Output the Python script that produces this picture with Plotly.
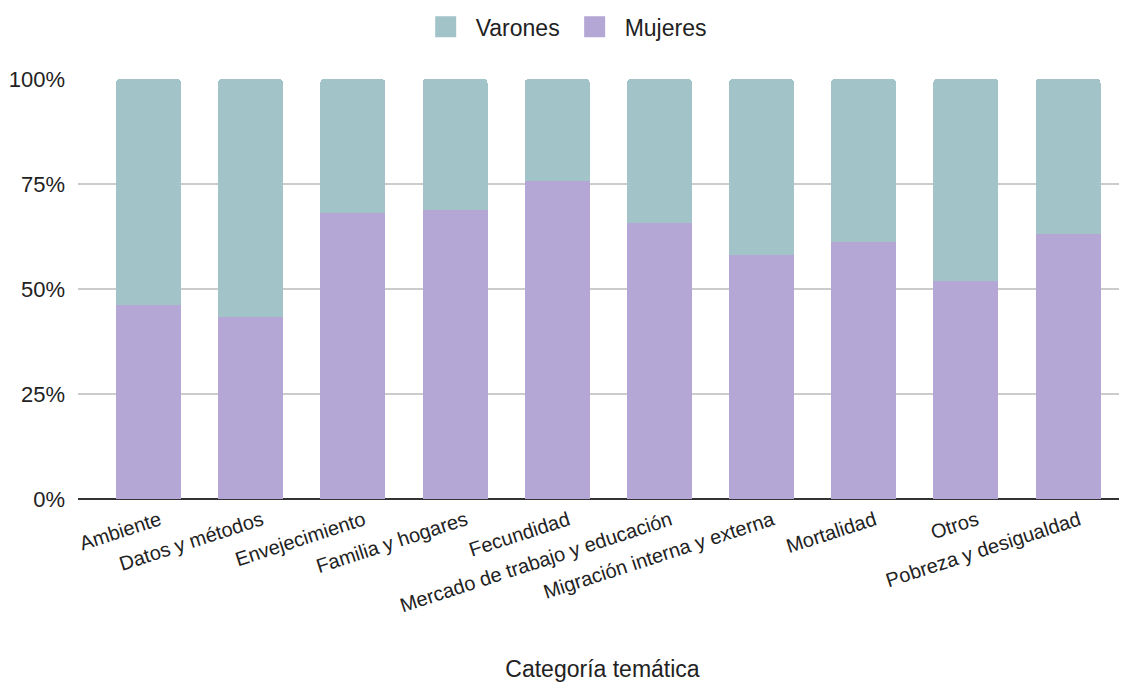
import plotly.graph_objects as go

categorias = ["Ambiente", "Datos y métodos", "Envejecimiento", "Familia y hogares",
              "Fecundidad", "Mercado de trabajo y educación", "Migración interna y externa",
              "Mortalidad", "Otros", "Pobreza y desigualdad"]
mujeres = [46.3, 43.3, 68.2, 68.7, 75.8, 65.8, 58.2, 61.1, 52.0, 63.0]
varones = [53.7, 56.7, 31.8, 31.3, 24.2, 34.2, 41.8, 38.9, 48.0, 37.0]
y_ticks = [0, 25, 50, 75, 100]
y_tick_labels = ["0%", "25%", "50%", "75%", "100%"]

C_VAR = "#A2C4C9"
C_MUJ = "#B4A7D6"
FONT = "Liberation Sans, Arial, sans-serif"
TXT = "#222222"

fig = go.Figure()
fig.add_trace(go.Bar(name="Mujeres", x=categorias, y=mujeres, marker_color=C_MUJ,
                     marker_line_width=0, width=0.636, showlegend=False))
fig.add_trace(go.Bar(name="Varones", x=categorias, y=varones, marker_color=C_VAR,
                     marker_line_width=0, width=0.636, showlegend=False))
# legend entries (larger square swatches)
for name, col in [("Varones", C_VAR), ("Mujeres", C_MUJ)]:
    fig.add_trace(go.Scatter(name=name, x=[None], y=[None], mode="markers",
                             marker=dict(symbol="square", size=16, color=col,
                                         line=dict(color=col, width=5)),
                             showlegend=True))

fig.update_layout(
    barmode="stack",
    barcornerradius=4,
    width=1127, height=682,
    margin=dict(l=70, r=8, t=71, b=191, autoexpand=False),
    paper_bgcolor="white", plot_bgcolor="white",
    font=dict(family=FONT, color=TXT, size=20),
    legend=dict(orientation="h", x=0.463, xanchor="center", y=1.124, yanchor="middle",
                itemsizing="trace", itemwidth=50, traceorder="normal",
                font=dict(size=23, color=TXT)),
)
fig.update_xaxes(
    type="category", range=[-0.69, 9.577], tickangle=-18,
    tickfont=dict(size=20, color=TXT), ticklabelshift=11, ticklabelstandoff=5,
    showgrid=False, showline=False, ticks="",
    title=dict(text="Categoría temática", font=dict(size=23, color=TXT), standoff=45),
)
fig.update_yaxes(
    range=[0, 100], tickvals=y_ticks, ticktext=y_tick_labels,
    tickfont=dict(size=22, color=TXT), ticklabelstandoff=12,
    showgrid=True, gridcolor="#cccccc", gridwidth=2,
    zeroline=True, zerolinecolor="#333333", zerolinewidth=2,
    showline=False, ticks="",
)

fig.write_html("out.html")
